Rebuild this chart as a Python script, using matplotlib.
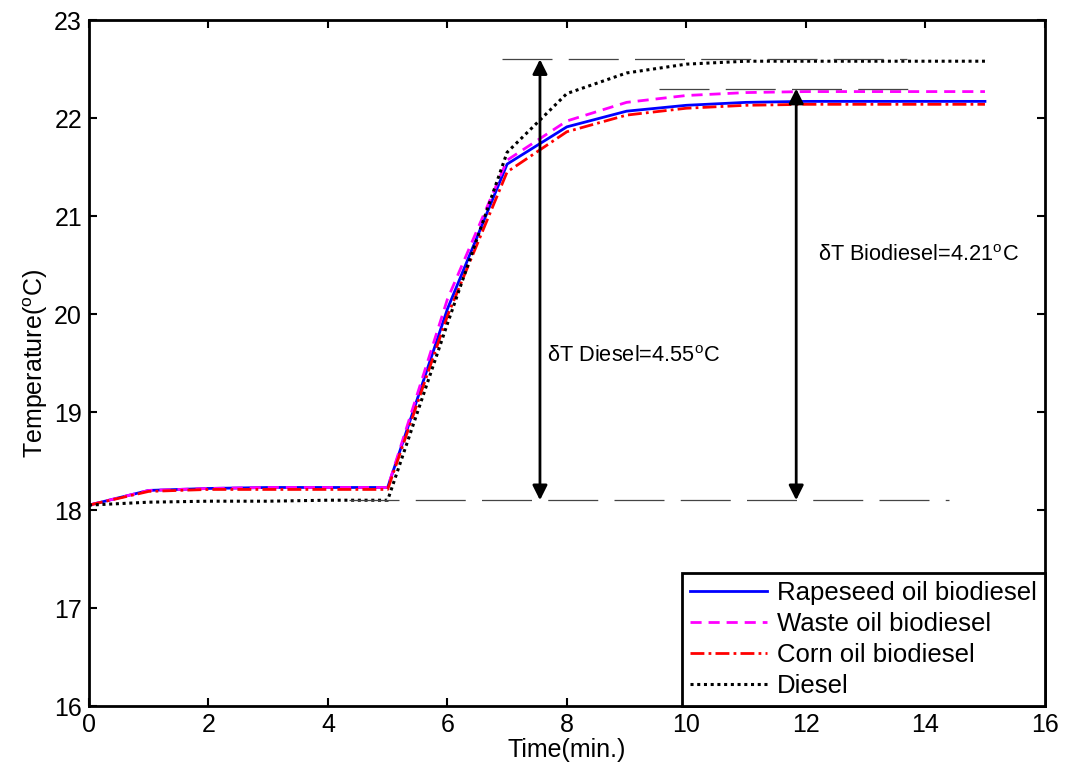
import matplotlib.pyplot as plt
import numpy as np

plt.rcParams['font.family'] = ['Liberation Sans', 'DejaVu Sans']
plt.rcParams['mathtext.fontset'] = 'custom'
plt.rcParams['mathtext.rm'] = 'Liberation Sans'
plt.rcParams['mathtext.it'] = 'Liberation Sans:italic'

# data ------------------------------------------------------------
time = np.arange(0, 16)
rapeseed = [18.05, 18.20, 18.22, 18.23, 18.23, 18.23, 20.05, 21.53, 21.91, 22.07,
            22.13, 22.16, 22.17, 22.17, 22.17, 22.17]
waste = [18.05, 18.20, 18.22, 18.23, 18.23, 18.23, 20.15, 21.57, 21.97, 22.16,
         22.23, 22.26, 22.27, 22.27, 22.27, 22.27]
corn = [18.05, 18.19, 18.21, 18.21, 18.21, 18.21, 19.98, 21.45, 21.86, 22.03,
        22.10, 22.13, 22.14, 22.14, 22.14, 22.14]
diesel = [18.05, 18.08, 18.09, 18.09, 18.10, 18.10, 19.90, 21.65, 22.25, 22.46,
          22.55, 22.58, 22.58, 22.58, 22.58, 22.58]
labels = ['Rapeseed oil biodiesel', 'Waste oil biodiesel', 'Corn oil biodiesel', 'Diesel']

# reference levels for the delta T marks
t_base = 18.1
t_diesel = 22.6
t_bio = 22.3

fig = plt.figure(figsize=(10.66, 7.71), dpi=100)
ax = fig.add_axes([0.0835, 0.0843, 0.8965, 0.8897])

ax.plot(time, rapeseed, color='#0000ff', linestyle='-', lw=2, label=labels[0])
ax.plot(time, waste, color='#ff00ff', linestyle=(0, (4, 2.5)), lw=2, label=labels[1])
ax.plot(time, corn, color='#ff0000', linestyle=(0, (5, 1.5, 1, 1.5)), lw=2, label=labels[2])
ax.plot(time, diesel, color='k', linestyle=(0, (1, 1.2)), lw=2.2, label=labels[3])

# dashed guide lines
dash = (0, (40, 13))
ax.plot([4.36, 14.4], [t_base, t_base], color='#444444', lw=0.9, linestyle=dash)
ax.plot([6.92, 13.7], [t_diesel, t_diesel], color='#444444', lw=0.9, linestyle=dash)
ax.plot([9.55, 13.95], [t_bio, t_bio], color='#444444', lw=0.9, linestyle=dash)

# double arrows
arr = dict(arrowstyle='<|-|>', color='k', lw=2, mutation_scale=22,
           shrinkA=0, shrinkB=0)
ax.annotate('', xy=(7.55, t_diesel), xytext=(7.55, t_base), arrowprops=arr)
ax.annotate('', xy=(11.84, t_bio), xytext=(11.84, t_base), arrowprops=arr)

ax.text(7.66, 19.57, r'δT Diesel=4.55$^{\mathrm{o}}$C', fontsize=15.7, va='center')
ax.text(12.2, 20.6, r'δT Biodiesel=4.21$^{\mathrm{o}}$C', fontsize=15.7, va='center')

# axes ------------------------------------------------------------
ax.set_xlim(0, 16)
ax.set_ylim(16, 23)
ax.set_xticks(np.arange(0, 17, 2))
ax.set_yticks(np.arange(16, 24, 1))
ax.tick_params(direction='in', length=6, width=1.5, top=True, right=True,
               labelsize=18, pad=5)
for s in ax.spines.values():
    s.set_linewidth(2)

ax.set_xlabel('Time(min.)', fontsize=18, labelpad=1)
ax.set_ylabel(r'Temperature($^{\mathrm{o}}$C)', fontsize=18, labelpad=3)

leg = ax.legend(loc='lower right', fontsize=18.5, frameon=True, fancybox=False,
                borderaxespad=0, handlelength=3, labelspacing=0.28,
                handletextpad=0.4, borderpad=0.3)
leg.get_frame().set_edgecolor('k')
leg.get_frame().set_linewidth(2)
leg.get_frame().set_alpha(1)

fig.savefig('out.png', dpi=100)
